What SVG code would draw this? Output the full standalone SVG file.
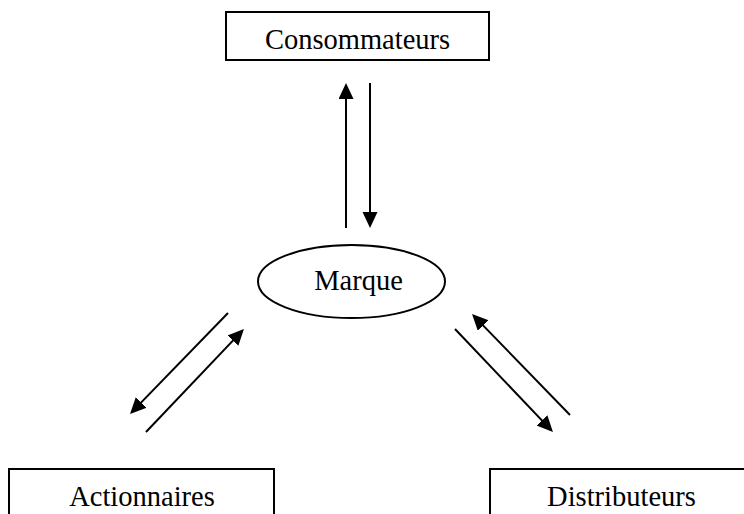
<svg xmlns="http://www.w3.org/2000/svg" width="744" height="514" viewBox="0 0 744 514">
<style>
.box{fill:#fff;stroke:#000;stroke-width:2}
.lbl{font-family:"Liberation Serif","Times New Roman",serif;font-size:28.5px;fill:#000;text-anchor:middle}
.conn{stroke:#000;stroke-width:2;fill:none;marker-end:url(#ah)}
</style>
<defs>
<marker id="ah" markerUnits="userSpaceOnUse" markerWidth="17" markerHeight="16" refX="11" refY="7.5" orient="auto">
<path d="M0,0 L16,7.5 L0,15 z" fill="#000"/>
</marker>
</defs>
<rect width="744" height="514" fill="#fff"/>
<g id="consommateurs">
<rect class="box" x="226" y="12" width="263" height="48"/>
<text class="lbl" x="357.5" y="49">Consommateurs</text>
</g>
<g id="marque">
<ellipse class="box" cx="351.5" cy="281.5" rx="93.5" ry="36.5"/>
<text class="lbl" x="358.5" y="290">Marque</text>
</g>
<g id="actionnaires">
<rect class="box" x="9" y="469" width="265" height="60"/>
<text class="lbl" x="142" y="506">Actionnaires</text>
</g>
<g id="distributeurs">
<rect class="box" x="490" y="469" width="270" height="60"/>
<text class="lbl" x="621.5" y="506">Distributeurs</text>
</g>
<g id="connectors">
<line class="conn" x1="346" y1="228" x2="346" y2="88"/>
<line class="conn" x1="370" y1="83" x2="370" y2="223"/>
<line class="conn" x1="228" y1="313" x2="133.5" y2="410.4"/>
<line class="conn" x1="146" y1="432" x2="240.5" y2="332.6"/>
<line class="conn" x1="570" y1="415" x2="475.5" y2="317.6"/>
<line class="conn" x1="455" y1="329" x2="549.5" y2="428.4"/>
</g>
</svg>
